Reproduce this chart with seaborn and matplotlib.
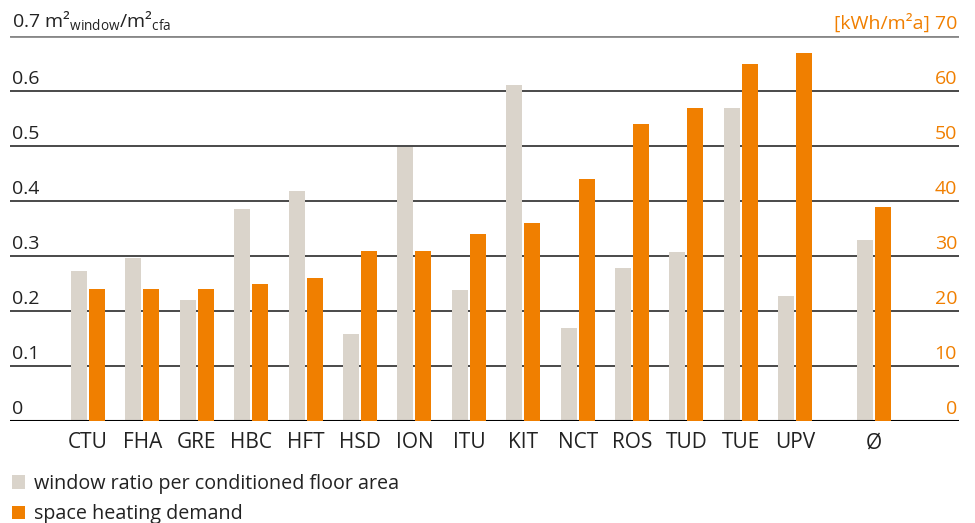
import matplotlib
matplotlib.use("Agg")
import matplotlib.pyplot as plt
import matplotlib.transforms as mtransforms
from matplotlib.patches import Patch
import seaborn as sns
import pandas as pd
import numpy as np

# ---- data ----
categories = ["CTU", "FHA", "GRE", "HBC", "HFT", "HSD", "ION", "ITU",
              "KIT", "NCT", "ROS", "TUD", "TUE", "UPV", "Ø"]
window_ratio = [0.273, 0.296, 0.220, 0.385, 0.418, 0.158, 0.498, 0.238,
                0.611, 0.169, 0.278, 0.307, 0.569, 0.227, 0.330]
heating_demand = [24, 24, 24, 25, 26, 31, 31, 34, 36, 44, 54, 57, 65, 67, 39]
left_ticks = [0, 0.1, 0.2, 0.3, 0.4, 0.5, 0.6, 0.7]
left_labels = ["0", "0.1", "0.2", "0.3", "0.4", "0.5", "0.6",
               r"0.7 m²$_{\mathregular{window}}$/m²$_{\mathregular{cfa}}$"]
right_ticks = [0, 10, 20, 30, 40, 50, 60, 70]
right_labels = ["0", "10", "20", "30", "40", "50", "60", "[kWh/m²a] 70"]
legend_labels = ["window ratio per conditioned floor area", "space heating demand"]

GRAY = "#DAD4CB"
ORANGE = "#F07F00"
TEXT = "#222222"

sns.set_theme(style="white")
FONT = "Open Sans"
plt.rcParams["font.family"] = [FONT, "DejaVu Sans"]
plt.rcParams["mathtext.fontset"] = "custom"
plt.rcParams["mathtext.rm"] = FONT

# layout positions: a wider gap before the average group
pos = np.array(list(range(len(categories) - 1)) + [len(categories) - 1 + 0.45])
off = 0.165
bw = 0.294

df = pd.DataFrame({"cat": categories, "pos": pos,
                   "window": window_ratio, "heating": heating_demand})
df["xg"] = df["pos"] - off
df["xo"] = df["pos"] + off

fig = plt.figure(figsize=(9.75, 5.23), dpi=100)
ax = fig.add_axes([10 / 975, 1 - 421 / 523, 949 / 975, 385 / 523])
ax2 = ax.twinx()

# gridlines
for t in left_ticks[1:]:
    ax.axhline(t, color="#3a3a3a", lw=1.3, zorder=0)
ax.axhline(0.7, color="#888888", lw=2.0, zorder=0)

sns.barplot(data=df, x="xg", y="window", ax=ax, native_scale=True,
            color=GRAY, saturation=1, width=bw, errorbar=None,
            linewidth=0, zorder=2)
sns.barplot(data=df, x="xo", y="heating", ax=ax2, native_scale=True,
            color=ORANGE, saturation=1, width=bw, errorbar=None,
            linewidth=0, zorder=2)

ax.axhline(0, color="black", lw=1.5, zorder=3)

xlim = (-1.434, 16.01)
ax.set_xlim(*xlim)
ax2.set_xlim(*xlim)
ax.set_ylim(0, 0.7)
ax2.set_ylim(0, 70)

for a in (ax, ax2):
    for s in a.spines.values():
        s.set_visible(False)
    a.set_yticks([])
    a.set_ylabel("")
    a.set_xlabel("")
    a.grid(False)

ax.set_xticks(pos)
ax.set_xticklabels(categories, fontsize=15, color=TEXT)
ax.tick_params(axis="x", length=0, pad=8)
ax2.tick_params(axis="x", length=0, labelbottom=False)

# y labels sitting above the gridlines
tl = mtransforms.blended_transform_factory(ax.transAxes, ax.transData)
for t, lab in zip(left_ticks, left_labels):
    ax.text(2 / 949, t + 0.006, lab, transform=tl, ha="left", va="bottom",
            fontsize=14, color=TEXT)
tr = mtransforms.blended_transform_factory(ax2.transAxes, ax2.transData)
for t, lab in zip(right_ticks, right_labels):
    ax2.text(1 - 2 / 949, t + 0.6, lab, transform=tr, ha="right", va="bottom",
             fontsize=14, color=ORANGE)

handles = [Patch(facecolor=GRAY, edgecolor="none"),
           Patch(facecolor=ORANGE, edgecolor="none")]
fig.legend(handles, legend_labels, loc="upper left",
           bbox_to_anchor=(12 / 975, 1 - 474 / 523), frameon=False,
           fontsize=14.2, labelcolor=TEXT, handlelength=0.66, handleheight=0.66,
           handletextpad=0.45, labelspacing=0.52, borderaxespad=0, borderpad=0)

fig.savefig("out.png", dpi=100)
